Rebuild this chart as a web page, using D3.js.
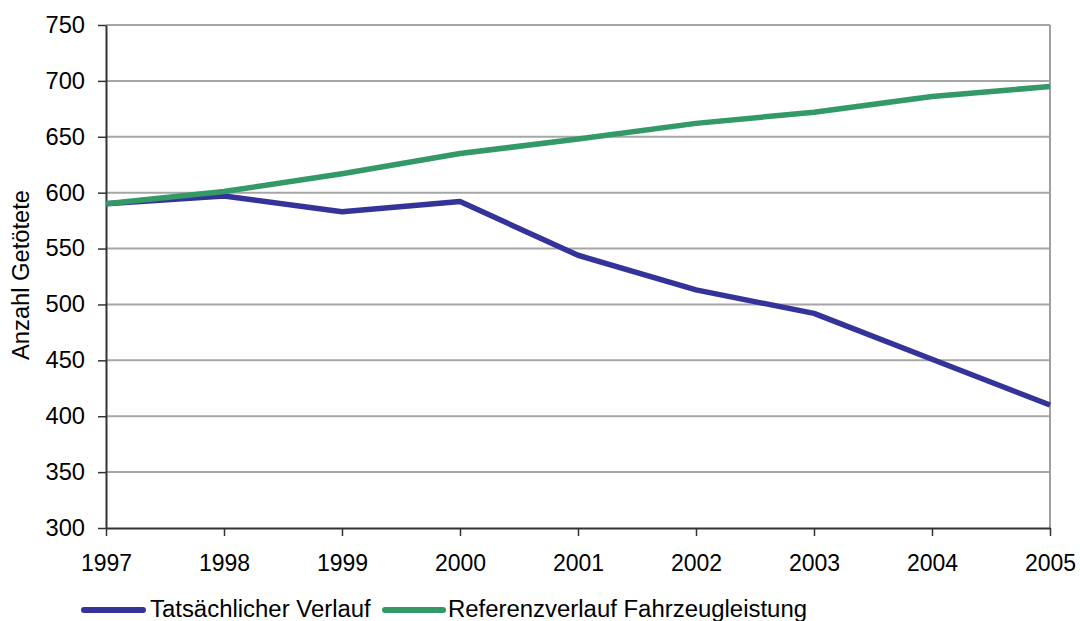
<!DOCTYPE html>
<html><head><meta charset="utf-8">
<script src="https://cdn.jsdelivr.net/npm/d3@7"></script>
<style>body{margin:0;background:#fff}svg{display:block;font-family:"Liberation Sans",Arial,sans-serif}</style>
</head><body><svg id="c" width="1080" height="621"></svg>
<script>
const years = [1997,1998,1999,2000,2001,2002,2003,2004,2005];
const tatsaechlich = [590,597,583,592,544,513,492,451,410];
const referenz = [590,601,617,635,648,662,672,686,695];
const yTicks = [300,350,400,450,500,550,600,650,700,750];
const seriesNames = ["Tatsächlicher Verlauf","Referenzverlauf Fahrzeugleistung"];
const colors = ["#333399","#339966"];
const yTitle = "Anzahl Getötete";

const FS = 23;
function stretch(sel, f){
  sel.each(function(){
    const w = this.getComputedTextLength();
    d3.select(this).attr("textLength", w*f).attr("lengthAdjust","spacingAndGlyphs");
  });
}

const svg = d3.select("#c");
const L=106,R=1050,T=25,B=528;
const x = d3.scalePoint().domain(years).range([L,R]);
const y = d3.scaleLinear().domain([300,750]).range([B,T]);

// gridlines
svg.append("g").selectAll("line").data(yTicks.filter(v=>v>300)).join("line")
  .attr("x1",L).attr("x2",R).attr("y1",d=>y(d)).attr("y2",d=>y(d))
  .attr("stroke","#a6a6a6").attr("stroke-width",2);
// right border
svg.append("line").attr("x1",R).attr("x2",R).attr("y1",T).attr("y2",B)
  .attr("stroke","#a0a0a0").attr("stroke-width",2);

// y axis
const ya = svg.append("g").attr("transform",`translate(${L},0)`)
  .call(d3.axisLeft(y).tickValues(yTicks).tickSize(8).tickPadding(13).tickSizeOuter(0));
ya.select(".domain").attr("stroke","#333").attr("stroke-width",2);
ya.selectAll(".tick line").attr("stroke","#333").attr("stroke-width",1.5);
ya.selectAll("text").attr("font-size",FS).attr("fill","#000").attr("font-family","Liberation Sans, Arial, sans-serif").call(stretch,1.03);

// x axis
const xa = svg.append("g").attr("transform",`translate(0,${B})`)
  .call(d3.axisBottom(x).tickSize(8).tickPadding(19).tickSizeOuter(0).tickFormat(d3.format("d")));
xa.select(".domain").attr("stroke","#333").attr("stroke-width",2);
xa.selectAll(".tick line").attr("stroke","#333").attr("stroke-width",1.5);
xa.selectAll("text").attr("font-size",FS).attr("fill","#000").attr("font-family","Liberation Sans, Arial, sans-serif");

// y title
svg.append("text").attr("transform",`translate(29,275) rotate(-90)`)
  .attr("text-anchor","middle").attr("font-size",FS).attr("fill","#000").text(yTitle).call(stretch,1.03);

// lines
const line = d3.line().x((d,i)=>x(years[i])).y(d=>y(d));
[tatsaechlich,referenz].forEach((s,i)=>{
  svg.append("path").datum(s).attr("d",line).attr("fill","none")
    .attr("stroke",colors[i]).attr("stroke-width",5.5).attr("stroke-linejoin","round");
});

// legend
const lg = [{x1:84,x2:143,tx:150},{x1:385,x2:443,tx:448}];
seriesNames.forEach((n,i)=>{
  svg.append("line").attr("x1",lg[i].x1).attr("x2",lg[i].x2).attr("y1",610).attr("y2",610)
    .attr("stroke",colors[i]).attr("stroke-width",6).attr("stroke-linecap","round");
  svg.append("text").attr("x",lg[i].tx).attr("y",617).attr("font-size",FS).attr("fill","#000").text(n).call(stretch,1.04);
});
</script></body></html>
